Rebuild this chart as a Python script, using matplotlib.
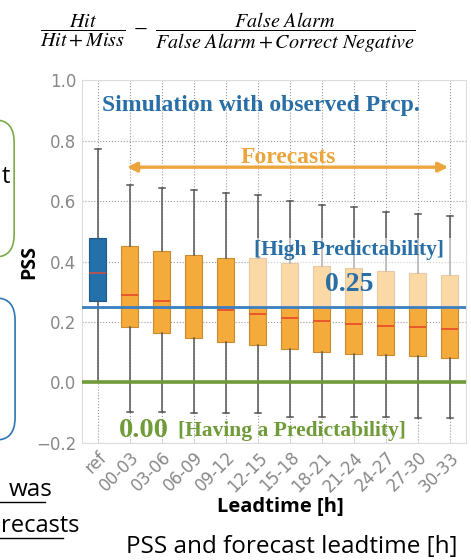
import matplotlib
matplotlib.use("Agg")
import matplotlib.pyplot as plt
from matplotlib.patches import FancyBboxPatch, Rectangle

# leadtime classes and box statistics of PSS
labels = ["ref", "00-03", "03-06", "06-09", "09-12", "12-15", "15-18",
          "18-21", "21-24", "24-27", "27-30", "30-33"]
medians = [0.362, 0.288, 0.268, 0.249, 0.240, 0.228, 0.213, 0.202, 0.193, 0.187, 0.182, 0.177]
q1 = [0.270, 0.183, 0.163, 0.147, 0.135, 0.123, 0.111, 0.100, 0.093, 0.090, 0.086, 0.081]
q3 = [0.478, 0.451, 0.436, 0.423, 0.413, 0.411, 0.396, 0.385, 0.379, 0.369, 0.363, 0.356]
whis_lo = [0.0, -0.098, -0.098, -0.100, -0.100, -0.100, -0.113, -0.113, -0.113, -0.113, -0.116, -0.116]
whis_hi = [0.771, 0.652, 0.644, 0.635, 0.627, 0.620, 0.599, 0.588, 0.580, 0.563, 0.557, 0.551]
high_pred = 0.25
having_pred = 0.0

blue = "#2a6ea6"
orange = "#f5ab3c"
green = "#6f9b38"

fig = plt.figure(figsize=(4.71, 5.6), dpi=100)
ax = fig.add_axes([0.174, 0.209, 0.815, 0.648])

stats = []
for i in range(len(labels)):
    stats.append(dict(med=medians[i], q1=q1[i], q3=q3[i],
                      whislo=whis_lo[i], whishi=whis_hi[i], fliers=[]))
bp = ax.bxp(stats, positions=range(len(labels)), widths=0.53,
            patch_artist=True, showfliers=False, capwidths=0.18,
            whiskerprops=dict(color="#555555", lw=1.1),
            capprops=dict(color="#555555", lw=1.1),
            medianprops=dict(color="#e8502a", lw=1.3))
for i, b in enumerate(bp["boxes"]):
    if i == 0:
        b.set_facecolor("#2470ab")
        b.set_edgecolor("#1d5a8a")
        bp["medians"][i].set_color("#c0504d")
    else:
        b.set_facecolor(orange)
        b.set_edgecolor("#c98a30")
    b.set_linewidth(0.8)

# lighter area behind the "High Predictability" label
ax.add_patch(Rectangle((4.72, high_pred), 6.78, 0.228, facecolor="white",
                       alpha=0.55, edgecolor="none", zorder=4))

ax.axhline(high_pred, color="#3b7fc0", lw=2.0, zorder=5)
ax.axhline(having_pred, color=green, lw=2.6, zorder=5)

ax.set_xlim(-0.5, 11.5)
ax.set_ylim(-0.2, 1.0)
ax.set_yticks([-0.2, 0.0, 0.2, 0.4, 0.6, 0.8, 1.0])
ax.set_xticks(range(len(labels)))
ax.set_xticklabels(labels, rotation=45, ha="right", rotation_mode="anchor")
ax.tick_params(length=0, labelsize=12, labelcolor="#888888", pad=4)
ax.grid(True, ls=":", color="#999999", lw=0.8)
ax.set_axisbelow(True)
for s in ax.spines.values():
    s.set_color("#dddddd")

ax.set_ylabel("PSS", fontsize=14, fontweight="bold", family="Open Sans")
ax.yaxis.set_label_coords(-0.11, 0.5)
fig.text(280 / 471, 1 - 507 / 560, "Leadtime [h]", fontsize=14.5, fontweight="bold",
         family="Open Sans", ha="center", va="center")

serif = "Liberation Serif"
ax.text(0.13, 0.916, "Simulation with observed Prcp.", color=blue, fontsize=17,
        fontweight="bold", family=serif, va="center", ha="left")
ax.text(5.96, 0.745, "Forecasts", color="#eba53c", fontsize=17,
        fontweight="bold", family=serif, va="center", ha="center")
ax.annotate("", xy=(0.91, 0.712), xytext=(10.95, 0.712),
            arrowprops=dict(arrowstyle="<|-|>", color="#eba53c", lw=2.4,
                            mutation_scale=14, shrinkA=0, shrinkB=0))
ax.text(7.85, 0.438, "[High Predictability]", color=blue, fontsize=15.5,
        fontweight="bold", family=serif, va="center", ha="center", zorder=6)
ax.text(7.85, 0.323, "0.25", color=blue, fontsize=20,
        fontweight="bold", family=serif, va="center", ha="center", zorder=6)
ax.text(0.66, -0.16, "0.00", color=green, fontsize=20.5,
        fontweight="bold", family=serif, va="center", ha="left", zorder=6)
ax.text(2.49, -0.16, "[Having a Predictability]", color=green, fontsize=15.5,
        fontweight="bold", family=serif, va="center", ha="left", zorder=6)

# PSS formula
fig.text(0.484, 0.941,
         r"$\dfrac{Hit}{Hit+Miss}\ -\ \dfrac{False\ Alarm}{False\ Alarm+Correct\ Negative}$",
         fontsize=14.5, ha="center", va="center", math_fontfamily="stix")

fig.text(0.62, 0.023, "PSS and forecast leadtime [h]", fontsize=17.5,
         family="Open Sans", ha="center", va="center")

# parts of the slide on the left
fig.patches.append(FancyBboxPatch((-0.1, 1 - 257 / 560), 0.13, 137 / 560,
                                  boxstyle="round,pad=0,rounding_size=0.04",
                                  transform=fig.transFigure, facecolor="white",
                                  edgecolor="#7aab45", lw=1.2))
fig.patches.append(FancyBboxPatch((-0.1, 1 - 440 / 560), 0.132, 142 / 560,
                                  boxstyle="round,pad=0,rounding_size=0.04",
                                  transform=fig.transFigure, facecolor="white",
                                  edgecolor="#2e75b6", lw=1.2))
fig.text(0.021, 1 - 177 / 560, "t", fontsize=17, family="Open Sans",
         ha="right", va="center")
fig.text(53 / 471, 1 - 490 / 560, "was", fontsize=17.5, family="Open Sans",
         ha="right", va="center")
fig.text(1 / 471, 1 - 526 / 560, "recasts", fontsize=17, family="Open Sans",
         ha="left", va="center")
fig.lines.append(plt.Line2D([0, 45 / 471], [1 - 502 / 560] * 2, color="black",
                            lw=1.0, transform=fig.transFigure))
fig.lines.append(plt.Line2D([0, 63 / 471], [1 - 538 / 560] * 2, color="black",
                            lw=1.0, transform=fig.transFigure))

fig.savefig("out.png", dpi=100)
